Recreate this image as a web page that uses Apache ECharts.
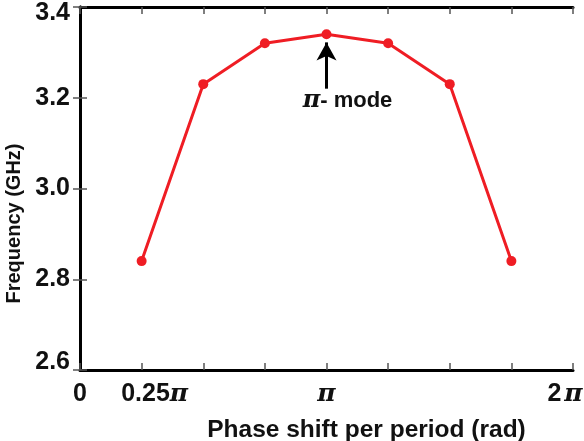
<!DOCTYPE html>
<html>
<head>
<meta charset="utf-8">
<script src="https://cdn.jsdelivr.net/npm/echarts@6/dist/echarts.min.js"></script>
<style>
html, body { margin: 0; padding: 0; background: #fff; }
#chart { width: 584px; height: 441px; }
</style>
</head>
<body>
<div id="chart"></div>
<script>
// Phase shift per period, in units of π
const phaseShift = [0.25, 0.5, 0.75, 1, 1.25, 1.5, 1.75];
// Dispersion: frequency of each mode (GHz)
const frequencyGHz = [2.84, 3.23, 3.32, 3.34, 3.32, 3.23, 2.84];
// Labelled x ticks (units of π)
const xTickText = { '0': '0', '0.25': '0.25π', '1': 'π', '2': '2π' };
// Annotation arrow pointing at the π-mode (x in π, y in GHz)
const piModeArrow = [[1, 3.22], [1, 3.322]];
const piModeText = 'π- mode';

const chart = echarts.init(document.getElementById('chart'), null, { renderer: 'canvas' });

const sans = 'Liberation Sans, Arial, sans-serif';
const serif = 'DejaVu Serif, serif';

const boxLine = { show: true, lineStyle: { color: '#000', width: 3 } };
const inTick = { show: true, inside: true, length: 7, lineStyle: { color: '#555', width: 1.5 } };

function xLabel(v) {
  const key = String(v);
  if (key === '0') return '{n|0}';
  if (key === '0.25') return '{s|0.25}{p|π}';
  if (key === '1') return '{p|π}';
  if (key === '2') return '{g|2}{q|π}';
  return '';
}

// Edge labels on the y axis sit slightly inside the frame
function yLabel(v) {
  const t = v.toFixed(1);
  if (Math.abs(v - 3.4) < 1e-6) return '{hi|' + t + '}';
  if (Math.abs(v - 2.6) < 1e-6) return '{lo|' + t + '}';
  return '{m|' + t + '}';
}

const yFont = { fontFamily: sans, fontWeight: 'bold', fontSize: 25, color: '#111' };

const option = {
  animation: false,
  grid: { left: 80, right: 11, top: 7, bottom: 71, containLabel: false, outerBoundsMode: 'none' },
  xAxis: [
    {
      type: 'value', min: 0, max: 2, interval: 0.25,
      axisLine: boxLine, axisTick: inTick, splitLine: { show: false },
      axisLabel: {
        margin: 12,
        formatter: xLabel,
        rich: {
          n: { fontFamily: sans, fontWeight: 'bold', fontSize: 25, color: '#111' },
          g: { fontFamily: sans, fontWeight: 'bold', fontSize: 25, color: '#111', padding: [0, 3, 0, 0] },
          s: { fontFamily: sans, fontWeight: 'bold', fontSize: 25, color: '#111', padding: [0, 0, 0, 26] },
          p: { fontFamily: serif, fontWeight: 'bold', fontStyle: 'italic', fontSize: 25, color: '#111' },
          q: { fontFamily: serif, fontWeight: 'bold', fontStyle: 'italic', fontSize: 25, color: '#111', padding: [0, 16, 0, 0] }
        }
      },
      name: 'Phase shift per period (rad)',
      nameLocation: 'middle', nameGap: 48,
      nameTextStyle: { fontFamily: sans, fontWeight: 'bold', fontSize: 24.5, color: '#111', padding: [0, 0, 0, 80] }
    },
    {
      type: 'value', position: 'top', min: 0, max: 2, interval: 0.25,
      axisLine: boxLine, axisTick: inTick, axisLabel: { show: false }, splitLine: { show: false }
    }
  ],
  yAxis: [
    {
      type: 'value', min: 2.6, max: 3.4, interval: 0.2,
      axisLine: boxLine, axisTick: inTick, splitLine: { show: false },
      axisLabel: {
        margin: 10,
        formatter: yLabel,
        rich: {
          m: yFont,
          hi: Object.assign({ padding: [13, 0, 0, 0] }, yFont),
          lo: Object.assign({ padding: [0, 0, 15, 0] }, yFont)
        }
      },
      name: 'Frequency (GHz)',
      nameLocation: 'middle', nameGap: 55,
      nameTextStyle: { fontFamily: sans, fontWeight: 'bold', fontSize: 20, color: '#111', padding: [0, 70, 0, 0] }
    },
    {
      type: 'value', position: 'right', min: 2.6, max: 3.4, interval: 0.2,
      axisLine: boxLine, axisTick: inTick, axisLabel: { show: false }, splitLine: { show: false }
    }
  ],
  series: [
    {
      type: 'line',
      data: phaseShift.map((x, i) => [x, frequencyGHz[i]]),
      symbol: 'circle', symbolSize: 10,
      lineStyle: { color: '#ef1d24', width: 3 },
      itemStyle: { color: '#ef1d24' },
      z: 3,
      markLine: {
        silent: true,
        symbol: ['none', 'arrow'],
        symbolSize: [15, 18],
        label: { show: false },
        lineStyle: { color: '#000', width: 3, type: 'solid' },
        emphasis: { disabled: true },
        data: [[{ coord: piModeArrow[0] }, { coord: piModeArrow[1] }]]
      }
    }
  ]
};

chart.setOption(option);

// Caption under the arrow, placed from the arrow's data coordinate
const base = chart.convertToPixel({ xAxisIndex: 0, yAxisIndex: 0 }, piModeArrow[0]);
chart.setOption({
  graphic: [{
    type: 'text',
    x: base[0] + 21, y: base[1] + 12,
    style: {
      text: '{p|π}{t|- mode}',
      align: 'center', verticalAlign: 'middle',
      rich: {
        p: { fontFamily: serif, fontWeight: 'bold', fontStyle: 'italic', fontSize: 24, fill: '#111' },
        t: { fontFamily: sans, fontWeight: 'bold', fontSize: 22, fill: '#111' }
      }
    }
  }]
});
</script>
</body>
</html>
